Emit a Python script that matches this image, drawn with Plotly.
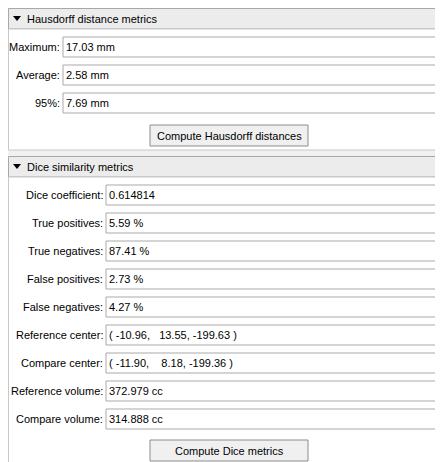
import plotly.graph_objects as go

# panel content
haus_labels = ["Maximum:", "Average:", "95%:"]
haus_values = ["17.03 mm", "2.58 mm", "7.69 mm"]
dice_labels = ["Dice coefficient:", "True positives:", "True negatives:", "False positives:",
               "False negatives:", "Reference center:", "Compare center:",
               "Reference volume:", "Compare volume:"]
dice_values = ["0.614814", "5.59 %", "87.41 %", "2.73 %", "4.27 %",
               "( -10.96,   13.55, -199.63 )", "( -11.90,    8.18, -199.36 )",
               "372.979 cc", "314.888 cc"]
sections = ["Hausdorff distance metrics", "Dice similarity metrics"]
buttons = ["Compute Hausdorff distances", "Compute Dice metrics"]

W, H = 443, 462
FONT = dict(family="Liberation Sans, Arial", size=11, color="#000000")
shapes, annots = [], []


def rect(x0, y0, x1, y1, fill, line="#a0a0a0"):
    shapes.append(dict(type="rect", x0=x0, y0=y0, x1=x1, y1=y1, fillcolor=fill,
                       line=dict(color=line, width=1), layer="below"))


def text(x, y, s, anchor="left"):
    annots.append(dict(x=x, y=y, text=s.replace(" ", "\u00a0"), showarrow=False,
                       xanchor=anchor, yanchor="middle", font=FONT,
                       xshift=0, borderpad=0, borderwidth=0))


def header(y0, title):
    rect(0.5, y0 + 0.5, 441.5, y0 + 21, "#ececec", "#a8a8a8")
    shapes.append(dict(type="path", path=f"M 5 {y0+8} L 13 {y0+8} L 9 {y0+13} Z",
                       fillcolor="#000000", line=dict(width=0)))
    text(19, y0 + 11, title)


def section(y0, y1, labels, values, lab_x, field_x, btn_y, btn):
    rect(0.5, y0, 441.5, y1, "#ffffff", "#c8c8c8")
    for i, (l, v) in enumerate(zip(labels, values)):
        fy = y0 + 8 + 28 * i
        rect(field_x, fy, 438, fy + 20, "#ffffff", "#a9a9a9")
        text(lab_x + 1, fy + 10, l, "right")
        text(field_x + 3, fy + 10, v)
    rect(142, btn_y, 300, btn_y + 21, "#f0f0f0", "#8c8c8c")
    text(221, btn_y + 10.5, btn, "center")


header(0, sections[0])
section(21, 142, haus_labels, haus_values, 51, 55, 117, buttons[0])
header(148, sections[1])
section(169, 459, dice_labels, dice_values, 94, 98, 432, buttons[1])

fig = go.Figure()
fig.update_layout(
    width=W, height=H, margin=dict(l=0, r=0, t=0, b=0),
    paper_bgcolor="#f0f0f0", plot_bgcolor="#f0f0f0",
    xaxis=dict(range=[0, W], visible=False, fixedrange=True),
    yaxis=dict(range=[H, 0], visible=False, fixedrange=True),
    shapes=shapes, annotations=annots, showlegend=False,
)
fig.write_html("out.html", config={"displayModeBar": False})
